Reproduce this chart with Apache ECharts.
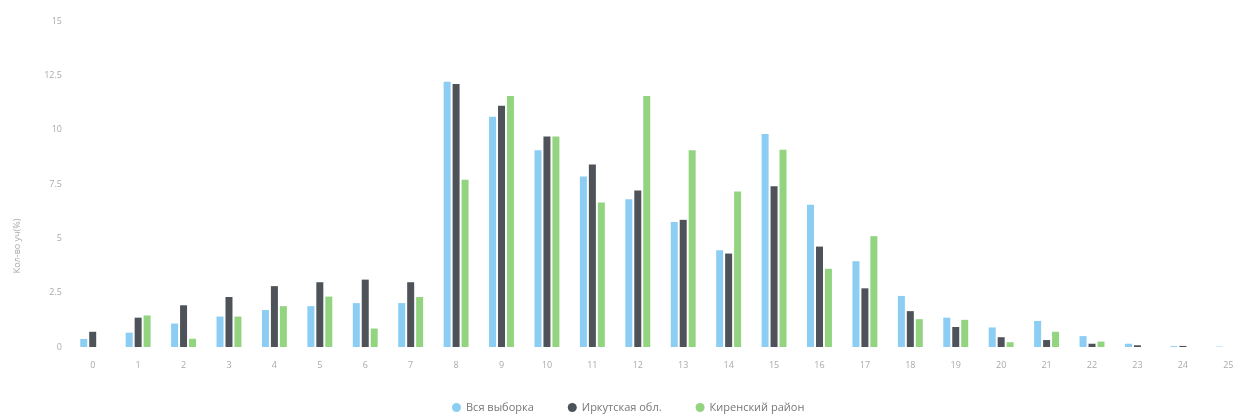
<!DOCTYPE html>
<html>
<head>
<meta charset="utf-8">
<script src="https://cdn.jsdelivr.net/npm/echarts@6/dist/echarts.min.js"></script>
<style>
html,body{margin:0;padding:0;background:#fff;}
#c{width:1237px;height:419px;}
</style>
</head>
<body>
<div id="c"></div>
<script>
var categories = ['0','1','2','3','4','5','6','7','8','9','10','11','12','13','14','15','16','17','18','19','20','21','22','23','24','25'];
var seriesNames = ['Вся выборка', 'Иркутская обл.', 'Киренский район'];
var allSample = [0.37,0.66,1.08,1.4,1.7,1.88,2.02,2.02,12.2,10.6,9.05,7.85,6.8,5.75,4.45,9.8,6.55,3.95,2.35,1.35,0.9,1.2,0.5,0.15,0.04,0.02];
var irkutsk   = [0.7,1.35,1.92,2.3,2.8,2.98,3.1,2.98,12.1,11.1,9.68,8.4,7.2,5.85,4.3,7.4,4.62,2.7,1.65,0.92,0.45,0.32,0.15,0.08,0.05,0];
var kirensky  = [0,1.45,0.38,1.4,1.88,2.32,0.85,2.3,7.7,11.55,9.68,6.65,11.55,9.05,7.15,9.08,3.6,5.1,1.28,1.25,0.22,0.7,0.25,0,0,0];
var yName = 'Кол-во уч(%)';

var colors = ['#8ccdf3', '#4e535a', '#93d481'];
var chart = echarts.init(document.getElementById('c'));
var dataSets = [allSample, irkutsk, kirensky];
chart.setOption({
  animation: false,
  color: colors,
  textStyle: {fontFamily: 'Open Sans, sans-serif'},
  grid: {left: 70, width: 1181, top: 21, height: 326, containLabel: false, outerBoundsMode: 'none'},
  legend: {
    bottom: 1,
    left: 447,
    icon: 'circle',
    itemWidth: 9,
    itemHeight: 9,
    itemGap: 34,
    textStyle: {color: '#777', fontSize: 11},
    data: seriesNames
  },
  xAxis: {
    type: 'category',
    data: categories,
    axisLine: {show: false},
    axisTick: {show: false},
    axisLabel: {color: '#aaa', fontSize: 9, margin: 14}
  },
  yAxis: {
    type: 'value',
    min: 0,
    max: 15,
    interval: 2.5,
    name: yName,
    nameLocation: 'middle',
    nameGap: 48,
    nameTextStyle: {color: '#aaa', fontSize: 9, padding: [0, 0, 0, -124]},
    axisLine: {show: false},
    axisTick: {show: false},
    splitLine: {show: false},
    axisLabel: {color: '#aaa', fontSize: 9, margin: 8}
  },
  series: seriesNames.map(function (n, i) {
    return {
      name: n,
      type: 'bar',
      data: dataSets[i],
      barWidth: 7,
      barGap: '28%'
    };
  })
});
</script>
</body>
</html>
